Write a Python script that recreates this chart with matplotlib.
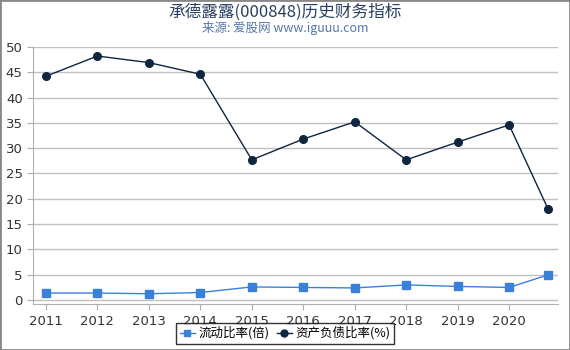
import matplotlib.pyplot as plt
from matplotlib.patches import Rectangle

plt.rcParams['font.family'] = ['DejaVu Sans', 'Noto Sans CJK SC']
plt.rcParams['axes.unicode_minus'] = False

# 数据
years = [2011, 2012, 2013, 2014, 2015, 2016, 2017, 2018, 2019, 2020, 2020.76]
year_ticks = [2011, 2012, 2013, 2014, 2015, 2016, 2017, 2018, 2019, 2020]
current_ratio = [1.4, 1.4, 1.25, 1.5, 2.6, 2.5, 2.4, 3.0, 2.7, 2.5, 5.0]
debt_ratio = [44.2, 48.2, 46.9, 44.6, 27.7, 31.8, 35.2, 27.7, 31.2, 34.6, 17.9]

fig = plt.figure(figsize=(5.7, 3.5), dpi=100)
ax = fig.add_axes([0.058, 0.131, 0.921, 0.735])

ax.plot(years, current_ratio, marker='s', markersize=5.5, color='#3a80d8',
        linewidth=1, label='流动比率(倍)')
ax.plot(years, debt_ratio, marker='o', markersize=5.5, color='#0f2540',
        linewidth=1, label='资产负债比率(%)')

ax.set_xlim(2010.75, 2020.95)
ax.set_ylim(-0.8, 50)
ax.set_xticks(year_ticks)
ax.set_yticks(range(0, 51, 5))
ax.grid(axis='y', color='#c0c0c0', linewidth=1)
ax.set_axisbelow(True)
for s in ['top', 'right']:
    ax.spines[s].set_visible(False)
for s in ['left', 'bottom']:
    ax.spines[s].set_color('#b0b0b0')
ax.tick_params(colors='#b0b0b0', labelcolor='#333333', labelsize=9.5, length=4)

fig.text(0.5, 0.965, '承德露露(000848)历史财务指标', ha='center', va='center',
         fontsize=12, color='#2a4060', family=['Noto Sans CJK SC', 'DejaVu Sans'])
fig.text(0.5, 0.92, '来源: 爱股网 www.iguuu.com', ha='center', va='center',
         fontsize=9, color='#5577aa', family=['Noto Sans CJK SC', 'DejaVu Sans'])

leg = fig.legend(loc='lower center', bbox_to_anchor=(0.5, 0.0), ncol=2,
                 frameon=True, fancybox=False, edgecolor='black',
                 handlelength=1.2, handletextpad=0.3, columnspacing=0.6,
                 borderpad=0.3, prop={'family': ['Noto Sans CJK SC', 'DejaVu Sans'], 'size': 9})
leg.get_frame().set_linewidth(1)
for h in leg.legend_handles:
    h.set_markersize(5)

fig.patches.append(Rectangle((0, 0), 1, 1, transform=fig.transFigure,
                             fill=False, edgecolor='#888888', linewidth=2))

plt.savefig('out.png', dpi=100)
